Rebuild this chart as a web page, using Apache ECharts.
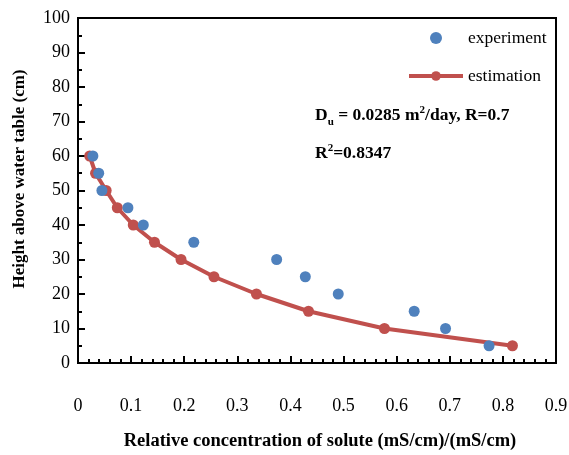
<!DOCTYPE html>
<html>
<head>
<meta charset="utf-8">
<script src="https://cdn.jsdelivr.net/npm/echarts@6/dist/echarts.min.js"></script>
<style>
  html, body { margin: 0; padding: 0; background: #fff; }
  #chart { width: 569px; height: 455px; }
</style>
</head>
<body>
<div id="chart"></div>
<script>
// experiment: measured relative concentration vs height
var expConc = [0.028, 0.039, 0.045, 0.094, 0.123, 0.218, 0.374, 0.428, 0.490, 0.633, 0.692, 0.774];
var expHeight = [60, 55, 50, 45, 40, 35, 30, 25, 20, 15, 10, 5];

// estimation: model curve
var estConc = [0.022, 0.033, 0.053, 0.074, 0.104, 0.144, 0.194, 0.256, 0.336, 0.434, 0.577, 0.818];
var estHeight = [60, 55, 50, 45, 40, 35, 30, 25, 20, 15, 10, 5];

var FONT = "'Liberation Serif', 'Times New Roman', serif";
var BLUE = "#4F81BD";
var RED = "#C0504D";

function pairs(xs, ys) {
  return xs.map(function (x, i) { return [x, ys[i]]; });
}

var chart = echarts.init(document.getElementById("chart"), null, { renderer: "canvas" });

var axisCommon = {
  axisLine: { show: true, lineStyle: { color: "#000", width: 2 } },
  axisTick: { show: true, inside: true, length: 7, lineStyle: { color: "#000", width: 2 } },
  minorTick: { show: true, length: 4, lineStyle: { color: "#000", width: 2 } },
  splitLine: { show: false },
  axisLabel: { color: "#000", fontFamily: FONT, fontSize: 18 },
  nameTextStyle: { color: "#000", fontFamily: FONT, fontSize: 17, fontWeight: "bold" }
};

var boldText = { fontFamily: FONT, fontSize: 17.5, fontWeight: "bold", fill: "#000", verticalAlign: "bottom" };
var subText = { fontFamily: FONT, fontSize: 11, fontWeight: "bold", fill: "#000", padding: [0, 0, -4, 0], verticalAlign: "bottom" };
var supText = { fontFamily: FONT, fontSize: 11, fontWeight: "bold", fill: "#000", padding: [0, 0, 8, 0], verticalAlign: "bottom" };

chart.setOption({
  animation: false,
  grid: {
    left: 78, right: 13, top: 18, bottom: 92,
    outerBoundsMode: "none",
    containLabel: false,
    show: true, borderColor: "#000", borderWidth: 2
  },
  xAxis: Object.assign({}, axisCommon, {
    type: "value",
    min: 0, max: 0.9, interval: 0.1,
    minorTick: Object.assign({}, axisCommon.minorTick, { splitNumber: 5 }),
    axisLabel: Object.assign({}, axisCommon.axisLabel, {
      margin: 34,
      formatter: function (v) { return v === 0 ? "0" : v.toFixed(1); }
    }),
    name: "Relative concentration of solute (mS/cm)/(mS/cm)",
    nameLocation: "middle",
    nameGap: 69,
    nameTextStyle: Object.assign({}, axisCommon.nameTextStyle, { fontSize: 18.5, padding: [0, 0, 0, 6] })
  }),
  yAxis: Object.assign({}, axisCommon, {
    type: "value",
    min: 0, max: 100, interval: 10,
    minorTick: Object.assign({}, axisCommon.minorTick, { splitNumber: 2 }),
    axisLabel: Object.assign({}, axisCommon.axisLabel, { margin: 8 }),
    name: "Height above water table (cm)",
    nameLocation: "middle",
    nameGap: 50,
    nameTextStyle: Object.assign({}, axisCommon.nameTextStyle, { padding: [0, 0, 0, 23] })
  }),
  legend: {
    orient: "vertical",
    left: 402, top: 24,
    itemWidth: 54, itemHeight: 12, itemGap: 20,
    lineStyle: { width: 4 },
    textStyle: { color: "#000", fontFamily: FONT, fontSize: 17.5 },
    data: ["experiment", "estimation"]
  },
  series: [
    {
      name: "estimation",
      type: "line",
      data: pairs(estConc, estHeight),
      symbol: "circle",
      symbolSize: 11,
      lineStyle: { color: RED, width: 4 },
      itemStyle: { color: RED },
      z: 2
    },
    {
      name: "experiment",
      type: "scatter",
      data: pairs(expConc, expHeight),
      symbol: "circle",
      symbolSize: 11,
      itemStyle: { color: BLUE, opacity: 1 },
      z: 3
    }
  ],
  graphic: [
    {
      type: "text",
      left: 315, top: 105,
      style: {
        text: "{b|D}{sub|u}{b| = 0.0285 m}{sup|2}{b|/day, R=0.7}",
        rich: { b: boldText, sub: subText, sup: supText }
      }
    },
    {
      type: "text",
      left: 315, top: 143,
      style: {
        text: "{b|R}{sup|2}{b|=0.8347}",
        rich: { b: boldText, sup: supText }
      }
    }
  ]
});
</script>
</body>
</html>
